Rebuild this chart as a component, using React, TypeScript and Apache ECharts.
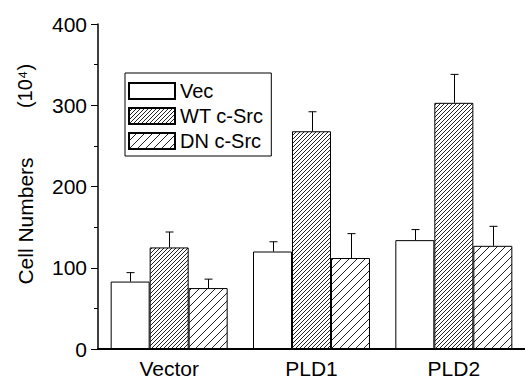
import React, { useEffect, useRef } from 'react';
import * as echarts from 'echarts';

const categories = ['Vector', 'PLD1', 'PLD2'];
const seriesNames = ['Vec', 'WT c-Src', 'DN c-Src'];
const vecValues = [83, 120, 134];
const vecErrors = [11, 12, 13];
const wtValues = [125, 268, 303];
const wtErrors = [19, 24, 35];
const dnValues = [75, 112, 127];
const dnErrors = [11, 30, 24];
const yMin = 0;
const yMax = 400;
const yInterval = 100;
const yTitle = 'Cell Numbers';
const yUnit = '(10⁴)';

const FONT = 'Liberation Sans, Arial, sans-serif';
const BAR_W = 39;

function hatch(size: number, lineWidth: number, color: string) {
  const c = document.createElement('canvas');
  c.width = size;
  c.height = size;
  const ctx = c.getContext('2d')!;
  ctx.fillStyle = '#fff';
  ctx.fillRect(0, 0, size, size);
  ctx.strokeStyle = color;
  ctx.lineWidth = lineWidth;
  ctx.beginPath();
  ctx.moveTo(0, size);
  ctx.lineTo(size, 0);
  ctx.moveTo(-size / 2, size / 2);
  ctx.lineTo(size / 2, -size / 2);
  ctx.moveTo(size / 2, size * 1.5);
  ctx.lineTo(size * 1.5, size / 2);
  ctx.stroke();
  return { image: c, repeat: 'repeat', imageWidth: size, imageHeight: size } as any;
}

export default function App() {
  const ref = useRef<HTMLDivElement>(null);
  useEffect(() => {
    if (!ref.current) return;
    const chart = echarts.init(ref.current, undefined, { renderer: 'svg' });
    const fills = ['#ffffff', hatch(4, 1, '#222'), hatch(8, 1, '#222')];
    const values = [vecValues, wtValues, dnValues];
    const errors = [vecErrors, wtErrors, dnErrors];

    const barSeries = seriesNames.map((name, s) => ({
      name,
      type: 'bar',
      data: values[s],
      barWidth: BAR_W,
      barGap: '0%',
      itemStyle: { color: fills[s], borderColor: '#000', borderWidth: 1 },
      z: 2,
    }));

    const errData: number[][] = [];
    values.forEach((vals, s) =>
      vals.forEach((v, ci) => errData.push([ci, v, errors[s][ci], s]))
    );

    const option: any = {
      animation: false,
      backgroundColor: '#fff',
      textStyle: { fontFamily: FONT },
      grid: { left: 98, right: -11, top: 24, bottom: 30, containLabel: false },
      legend: {
        data: seriesNames.map((n) => ({ name: n, icon: 'rect' })),
        orient: 'vertical',
        left: 125,
        top: 73,
        itemWidth: 46,
        itemHeight: 16,
        itemGap: 5,
        padding: [8, 8, 5, 3],
        borderColor: '#000',
        borderWidth: 1,
        backgroundColor: '#fff',
        selectedMode: false,
        textStyle: { fontSize: 20, color: '#000', fontFamily: FONT },
      },
      xAxis: {
        type: 'category',
        data: categories,
        axisLine: { lineStyle: { color: '#000', width: 2 } },
        axisTick: { alignWithLabel: true, length: 5, lineStyle: { color: '#000', width: 1 } },
        axisLabel: { fontSize: 21, color: '#000', margin: 9, fontFamily: FONT },
        splitLine: { show: false },
      },
      yAxis: {
        type: 'value',
        min: yMin,
        max: yMax,
        interval: yInterval,
        axisLine: { show: true, lineStyle: { color: '#000', width: 1.5 } },
        axisTick: { show: true, length: 7, lineStyle: { color: '#000', width: 1 } },
        minorTick: { show: true, splitNumber: 2, length: 4, lineStyle: { color: '#000', width: 1 } },
        axisLabel: { fontSize: 21, color: '#000', margin: 11, fontFamily: FONT },
        splitLine: { show: false },
      },
      graphic: [
        {
          type: 'text',
          x: 25,
          y: 221,
          rotation: Math.PI / 2,
          style: { text: yTitle, font: '21px Liberation Sans, Arial, sans-serif', fill: '#000', align: 'center', verticalAlign: 'middle' },
        },
        {
          type: 'text',
          x: 25,
          y: 86,
          rotation: Math.PI / 2,
          style: { text: yUnit, font: '20px Liberation Sans, Arial, sans-serif', fill: '#000', align: 'center', verticalAlign: 'middle' },
        },
      ],
      series: [
        ...barSeries,
        {
          type: 'custom',
          name: 'errors',
          data: errData,
          encode: { x: 0, y: 1 },
          z: 3,
          renderItem: (_params: any, api: any) => {
            const ci = api.value(0);
            const v = api.value(1);
            const e = api.value(2);
            const s = api.value(3);
            const base = api.coord([ci, v]);
            const top = api.coord([ci, v + e]);
            const x = Math.round(base[0] + (s - 1) * BAR_W) + 0.5;
            const st = { stroke: '#000', lineWidth: 1 };
            return {
              type: 'group',
              children: [
                { type: 'line', shape: { x1: x, y1: base[1], x2: x, y2: top[1] }, style: st },
                { type: 'line', shape: { x1: x - 4, y1: top[1], x2: x + 4, y2: top[1] }, style: st },
              ],
            };
          },
        },
      ],
    };
    chart.setOption(option);
    return () => chart.dispose();
  }, []);
  return (
    <div
      ref={ref}
      style={{ position: 'absolute', left: 0, top: 0, width: 525, height: 379 }}
    />
  );
}
